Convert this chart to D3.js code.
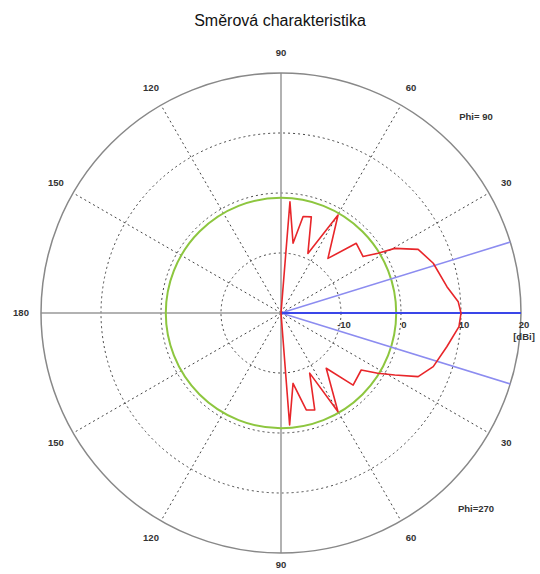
<!DOCTYPE html>
<html>
<head>
<meta charset="utf-8">
<script src="https://cdn.jsdelivr.net/npm/d3@7"></script>
<style>
  html, body { margin: 0; padding: 0; background: #fff; }
  svg { display: block; }
</style>
</head>
<body>
<script>
// ---- data ----
const title = "Směrová charakteristika";
const ringValues = [-10, 0, 10];            // dotted rings (dBi)
const ringLabels = ["-10", "0", "10", "20"];
const ringLabelValues = [-10, 0, 10, 20];
const gainRange = [-20, 20];                // centre .. outer circle (dBi)
const spokeAngles = [30, 60, 120, 150, 210, 240, 300, 330];
const angleLabelAngles = [90, 60, 30, 180, 150, 120, -30, -60, -90, -120, -150];
const angleLabelTexts  = ["90", "60", "30", "180", "150", "120", "30", "60", "90", "120", "150"];
const isoLevel = -0.8;                      // green reference circle (dBi)
const mainDirection = 0;                    // deg
const beamEdgeAngles = [17.2, -17.2];       // deg
const patternAngles = [90, 85.4, 80.2, 77.1, 72.5, 65.7, 59.8, 49.3, 42.8, 34.5, 31.6, 29.6, 24.9, 18.1, 9.0, 3.6, 0,
                       -4.4, -11.5, -19.4, -24.9, -28.6, -31.9, -35.4, -45, -50.7, -60, -64.5, -70.8, -75.4, -80.3, -85.6, -90];
const patternGain   = [-20, -1.4, -8.2, -3.5, -3.2, -9.1, -1.1, -8.0, -2.9, -3.4, -1.0, 1.8, 5.2, 6.7, 8.0, 9.6, 10.0,
                       9.75, 8.2, 6.9, 5.2, 1.6, -1.0, -3.6, -3.0, -8.1, -1.0, -8.9, -2.9, -3.3, -8.1, -1.3, -20];
const phiTop = "Phi= 90";
const phiBottom = "Phi=270";
const unitLabel = "[dBi]";

// ---- layout ----
const W = 540, H = 574;
const cx = 281, cy = 313, R = 240;

const svg = d3.select("body").append("svg").attr("width", W).attr("height", H);
const g = svg.append("g").attr("transform", `translate(${cx},${cy})`);

const r = d3.scaleLinear().domain(gainRange).range([0, R]).clamp(true);
const rad = d => d * Math.PI / 180;
const px = (a, v) => r(v) * Math.cos(rad(a));
const py = (a, v) => -r(v) * Math.sin(rad(a));

const labelFont = "'Liberation Sans', Arial, sans-serif";

// dotted spokes
g.selectAll("line.spoke").data(spokeAngles).join("line")
  .attr("x1", 0).attr("y1", 0)
  .attr("x2", a => px(a, gainRange[1])).attr("y2", a => py(a, gainRange[1]))
  .attr("stroke", "#444").attr("stroke-width", 1).attr("stroke-dasharray", "2,3");

// dotted rings
g.selectAll("circle.ring").data(ringValues).join("circle")
  .attr("r", d => r(d)).attr("fill", "none")
  .attr("stroke", "#444").attr("stroke-width", 1).attr("stroke-dasharray", "2,3");

// solid axes
g.append("line").attr("x1", -R).attr("x2", R).attr("y1", 0).attr("y2", 0)
  .attr("stroke", "#999").attr("stroke-width", 1.5);
g.append("line").attr("x1", 0).attr("x2", 0).attr("y1", -R).attr("y2", R)
  .attr("stroke", "#999").attr("stroke-width", 1.5);

// outer circle
g.append("circle").attr("r", r(gainRange[1])).attr("fill", "none")
  .attr("stroke", "#888").attr("stroke-width", 1.5);

// green reference circle
g.append("circle").attr("r", r(isoLevel)).attr("fill", "none")
  .attr("stroke", "#8dc63f").attr("stroke-width", 2);

// beam edge lines
g.selectAll("line.beam").data(beamEdgeAngles).join("line")
  .attr("x1", 0).attr("y1", 0)
  .attr("x2", a => px(a, gainRange[1])).attr("y2", a => py(a, gainRange[1]))
  .attr("stroke", "#8c8cf0").attr("stroke-width", 1.5);

// main direction line
g.append("line").attr("x1", 0).attr("y1", 0)
  .attr("x2", px(mainDirection, gainRange[1])).attr("y2", py(mainDirection, gainRange[1]))
  .attr("stroke", "#3a46e8").attr("stroke-width", 2);

// pattern
const pts = patternAngles.map((a, i) => [a, patternGain[i]]);
const line = d3.line().x(d => px(d[0], d[1])).y(d => py(d[0], d[1]));
g.append("path").datum(pts).attr("d", line)
  .attr("fill", "none").attr("stroke", "#e8262a").attr("stroke-width", 1.6)
  .attr("stroke-linejoin", "round");

// angle labels (bottom one nudged up so it stays inside the frame)
g.selectAll("text.alab").data(angleLabelAngles).join("text")
  .attr("x", a => (R + 20) * Math.cos(rad(a)))
  .attr("y", a => Math.min(-(R + 20) * Math.sin(rad(a)), H - cy - 9))
  .attr("dy", "0.35em")
  .attr("text-anchor", "middle")
  .attr("font-family", labelFont).attr("font-weight", "bold").attr("font-size", 9.5)
  .attr("fill", "#333")
  .text((a, i) => angleLabelTexts[i]);

// ring labels
g.selectAll("text.rlab").data(ringLabelValues).join("text")
  .attr("x", v => r(v) + 3).attr("y", 12)
  .attr("dy", "0.35em").attr("text-anchor", "middle")
  .attr("font-family", labelFont).attr("font-weight", "bold").attr("font-size", 9.5)
  .attr("fill", "#333")
  .text((v, i) => ringLabels[i]);
g.append("text").attr("x", r(gainRange[1]) + 3).attr("y", 24)
  .attr("dy", "0.35em").attr("text-anchor", "middle")
  .attr("font-family", labelFont).attr("font-weight", "bold").attr("font-size", 9.5)
  .attr("fill", "#333").text(unitLabel);

// Phi labels
svg.append("text").attr("x", 476).attr("y", 117).attr("dy", "0.35em").attr("text-anchor", "middle")
  .attr("font-family", labelFont).attr("font-weight", "bold").attr("font-size", 9.5)
  .attr("fill", "#333").text(phiTop);
svg.append("text").attr("x", 476).attr("y", 509).attr("dy", "0.35em").attr("text-anchor", "middle")
  .attr("font-family", labelFont).attr("font-weight", "bold").attr("font-size", 9.5)
  .attr("fill", "#333").text(phiBottom);

// title
svg.append("text").attr("x", 280).attr("y", 20).attr("dy", "0.35em").attr("text-anchor", "middle")
  .attr("font-family", labelFont).attr("font-size", 16).attr("fill", "#111").text(title);
</script>
</body>
</html>
